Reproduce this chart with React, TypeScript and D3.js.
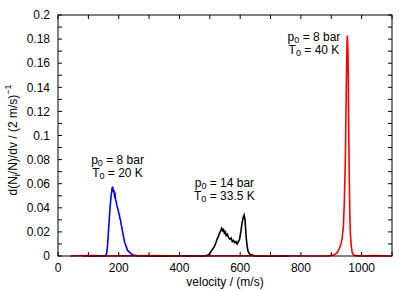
import React from "react";
import * as d3 from "d3";

// velocity (m/s), d(Ni/N)/dv
const blueSeries: [number, number][] = [
  [80, 0], [120, 0.0003], [150, 0], [156, 0.0005], [160, 0.002], [163, 0.008], [166, 0.02],
  [169, 0.031], [172, 0.042], [175, 0.05], [178, 0.056], [180, 0.0575], [182, 0.053],
  [184, 0.055], [186, 0.05], [188, 0.051], [190, 0.046], [192, 0.045], [194, 0.042],
  [196, 0.04], [198, 0.038], [200, 0.036], [202, 0.034], [204, 0.031], [206, 0.03],
  [208, 0.026], [210, 0.024], [212, 0.021], [214, 0.018], [216, 0.016], [218, 0.013],
  [220, 0.011], [222, 0.01], [224, 0.008], [226, 0.007], [228, 0.005], [232, 0.004],
  [236, 0.003], [240, 0.002], [246, 0.001], [252, 0.0005], [260, 0.0003], [280, 0],
  [320, 0.0002], [360, 0],
];

const blackSeries: [number, number][] = [
  [300, 0], [400, 0.0002], [480, 0], [490, 0.0005], [496, 0.001], [500, 0.002], [505, 0.004],
  [510, 0.006], [515, 0.008], [520, 0.011], [524, 0.014], [528, 0.016], [532, 0.019],
  [536, 0.021], [539, 0.023], [542, 0.021], [545, 0.022], [548, 0.019], [551, 0.02],
  [554, 0.017], [558, 0.018], [562, 0.015], [566, 0.014], [570, 0.015], [574, 0.012],
  [578, 0.013], [582, 0.011], [586, 0.012], [590, 0.01], [594, 0.012], [598, 0.014],
  [602, 0.02], [606, 0.027], [610, 0.032], [613, 0.034], [616, 0.03], [618, 0.022],
  [620, 0.015], [623, 0.008], [626, 0.004], [630, 0.002], [636, 0.001], [645, 0.0003],
  [660, 0], [760, 0],
];

const redSeries: [number, number][] = [
  [40, 0], [100, 0.0004], [160, 0], [300, 0.0003], [420, 0], [700, 0.0002], [800, 0],
  [890, 0], [900, 0.0005], [910, 0.001], [920, 0.003], [926, 0.006], [932, 0.01],
  [936, 0.015], [940, 0.025], [943, 0.045], [946, 0.075], [948, 0.11], [950, 0.15],
  [952, 0.178], [953, 0.183], [955, 0.17], [957, 0.12], [959, 0.07], [961, 0.035],
  [963, 0.018], [966, 0.008], [969, 0.003], [973, 0.001], [980, 0.0003], [1000, 0],
  [1040, 0.0003], [1090, 0],
];

const xTicks = [0, 200, 400, 600, 800, 1000];
const xMinorTicks = d3.range(0, 1101, 100);
const yTicks = [0, 0.02, 0.04, 0.06, 0.08, 0.1, 0.12, 0.14, 0.16, 0.18, 0.2];
const yMinorTicks = d3.range(0, 0.2001, 0.01);

const annotations = [
  { v: 196, d: 0.0765, p: "8", T: "20" },
  { v: 548, d: 0.0572, p: "14", T: "33.5" },
  { v: 843, d: 0.1783, p: "8", T: "40" },
];

const W = 415;
const H = 291;
const margin = { left: 58, right: 23, top: 15, bottom: 35 };
const font = "'Liberation Sans', Arial, Helvetica, sans-serif";

export default function App() {
  const x = d3.scaleLinear().domain([0, 1100]).range([margin.left, W - margin.right]);
  const y = d3.scaleLinear().domain([0, 0.2]).range([H - margin.bottom, margin.top]);
  const line = d3
    .line<[number, number]>()
    .x((p) => x(p[0]))
    .y((p) => y(p[1]));

  const x0 = x(0), x1 = x(1100), y0 = y(0), y1 = y(0.2);
  const tl = 4;

  return (
    <div style={{ position: "absolute", left: 0, top: 0 }}>
      <svg width={W} height={H} style={{ display: "block", background: "#fff" }} fontFamily={font}>
        {/* ticks, mirrored on all sides */}
        <g stroke="#000" strokeWidth={1}>
          {xMinorTicks.map((t) => (
            <g key={"xt" + t}>
              <line x1={x(t)} x2={x(t)} y1={y0} y2={y0 - tl} />
              <line x1={x(t)} x2={x(t)} y1={y1} y2={y1 + tl} />
            </g>
          ))}
          {yMinorTicks.map((t, i) => (
            <g key={"yt" + i}>
              <line x1={x0} x2={x0 + tl} y1={y(t)} y2={y(t)} />
              <line x1={x1} x2={x1 - tl} y1={y(t)} y2={y(t)} />
            </g>
          ))}
        </g>
        <path d={line(blueSeries) || ""} fill="none" stroke="#0000ff" strokeWidth={1.6} />
        <path d={line(blackSeries) || ""} fill="none" stroke="#000" strokeWidth={1.6} />
        <path d={line(redSeries) || ""} fill="none" stroke="#ff0000" strokeWidth={1.6} />
        <rect x={x0} y={y1} width={x1 - x0} height={y0 - y1} fill="none" stroke="#000" strokeWidth={1} />
        <g fontSize={12} fill="#000">
          {yTicks.map((t) => (
            <text key={"yl" + t} x={x0 - 8} y={y(t)} dy="0.35em" textAnchor="end">
              {d3.format("~g")(t)}
            </text>
          ))}
          {xTicks.map((t) => (
            <text key={"xl" + t} x={x(t)} y={y0 + 16} textAnchor="middle">
              {t}
            </text>
          ))}
          <text x={(x0 + x1) / 2} y={286} textAnchor="middle">velocity / (m/s)</text>
          <text transform={`translate(17,140) rotate(-90)`} textAnchor="middle">
            d(N<tspan fontSize={9} dy={3}>i</tspan>
            <tspan dy={-3}>/N)/dv / (2 m/s)</tspan>
            <tspan fontSize={9} dy={-6}>−1</tspan>
          </text>
          {annotations.map((a, i) => (
            <g key={"a" + i}>
              <text x={x(a.v)} y={y(a.d)} textAnchor="middle">
                p<tspan fontSize={9} dy={2}>0</tspan>
                <tspan dy={-2}>{` = ${a.p} bar`}</tspan>
              </text>
              <text x={x(a.v)} y={y(a.d) + 13} textAnchor="middle">
                T<tspan fontSize={9} dy={2}>0</tspan>
                <tspan dy={-2}>{` = ${a.T} K`}</tspan>
              </text>
            </g>
          ))}
        </g>
      </svg>
    </div>
  );
}
